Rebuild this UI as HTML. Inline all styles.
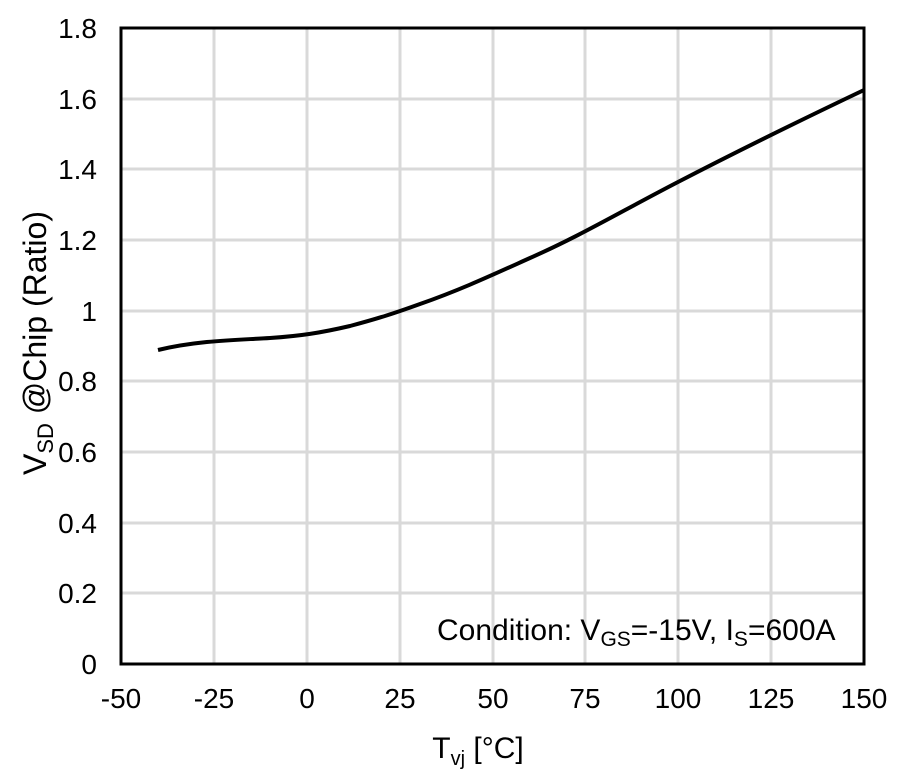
<!DOCTYPE html>
<html><head><meta charset="utf-8"><style>
body{margin:0;background:#fff;}
svg text{font-family:"Liberation Sans",Arial,sans-serif;fill:#000;}
</style></head><body>
<svg width="906" height="777" viewBox="0 0 906 777" xmlns="http://www.w3.org/2000/svg">
<g stroke="#d9d9d9" stroke-width="3">
<line x1="214" y1="28" x2="214" y2="664"/><line x1="307" y1="28" x2="307" y2="664"/>
<line x1="400" y1="28" x2="400" y2="664"/><line x1="493" y1="28" x2="493" y2="664"/>
<line x1="585" y1="28" x2="585" y2="664"/><line x1="678" y1="28" x2="678" y2="664"/>
<line x1="771" y1="28" x2="771" y2="664"/>
<line x1="121" y1="593" x2="864" y2="593"/><line x1="121" y1="523" x2="864" y2="523"/>
<line x1="121" y1="452" x2="864" y2="452"/><line x1="121" y1="381" x2="864" y2="381"/>
<line x1="121" y1="311" x2="864" y2="311"/><line x1="121" y1="240" x2="864" y2="240"/>
<line x1="121" y1="169" x2="864" y2="169"/><line x1="121" y1="99" x2="864" y2="99"/>
</g>
<rect x="121" y="28" width="743" height="636" fill="none" stroke="#000" stroke-width="3"/>
<path d="M158,350 C200,340 240,340 270,338 C300,336 320,333 350,326 C380,318 395,313 420,304 C460,290 490,276 530,258 C580,236 620,212 678,182 C730,155 780,130 864,90" fill="none" stroke="#000" stroke-width="4"/>
<g font-size="28" text-anchor="end">
<text x="97" y="674">0</text><text x="97" y="603">0.2</text><text x="97" y="533">0.4</text>
<text x="97" y="462">0.6</text><text x="97" y="391">0.8</text><text x="97" y="321">1</text>
<text x="97" y="250">1.2</text><text x="97" y="179">1.4</text><text x="97" y="109">1.6</text>
<text x="97" y="38">1.8</text>
</g>
<g font-size="28" text-anchor="middle">
<text x="121" y="708">-50</text><text x="214" y="708">-25</text><text x="307" y="708">0</text>
<text x="400" y="708">25</text><text x="493" y="708">50</text><text x="585" y="708">75</text>
<text x="678" y="708">100</text><text x="771" y="708">125</text><text x="864" y="708">150</text>
</g>
<text x="478" y="758" font-size="30" text-anchor="middle">T<tspan font-size="20" dy="7">vj</tspan><tspan dy="-7"> [°C]</tspan></text>
<text transform="translate(46,343) rotate(-90)" font-size="32" text-anchor="middle">V<tspan font-size="22" dy="7">SD</tspan><tspan dy="-7"> @Chip (Ratio)</tspan></text>
<text x="437" y="640" font-size="30">Condition: V<tspan font-size="21" dy="6">GS</tspan><tspan dy="-6">=-15V, I</tspan><tspan font-size="21" dy="6">S</tspan><tspan dy="-6">=600A</tspan></text>
</svg>
</body></html>
